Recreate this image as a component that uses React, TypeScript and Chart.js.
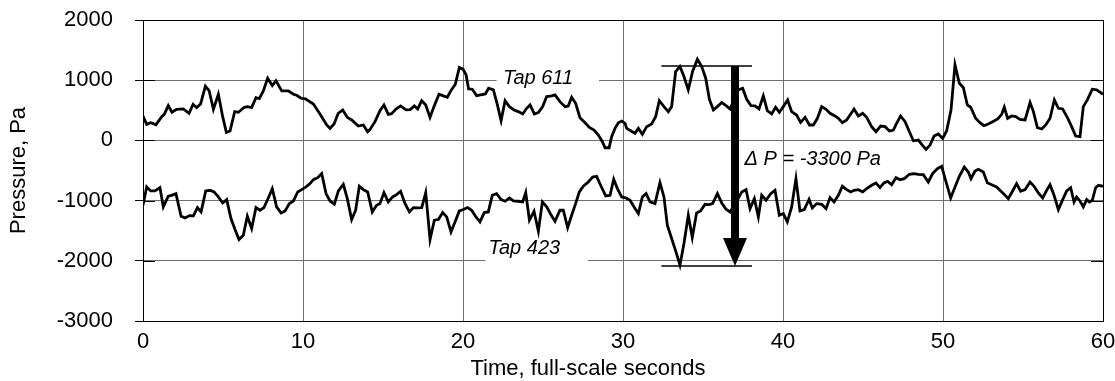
import { useEffect, useRef } from "react";
import { Chart, registerables } from "chart.js";
Chart.register(...registerables);

const tap611Time = [0, 0.23, 0.48, 0.6, 0.81, 1.17, 1.33, 1.58, 1.81, 2.1, 2.52, 2.88, 3.13, 3.35, 3.6, 3.9, 4.13, 4.4, 4.71, 4.98, 5.21, 5.44, 5.73, 5.96, 6.33, 6.54, 6.79, 7.06, 7.27, 7.52, 7.79, 8.08, 8.31, 8.67, 9.08, 9.4, 9.6, 9.88, 10.15, 10.65, 11.1, 11.48, 11.69, 11.94, 12.2, 12.48, 12.77, 13.04, 13.46, 13.77, 14.04, 14.19, 14.5, 14.81, 15.06, 15.33, 15.54, 15.81, 16.1, 16.44, 16.7, 16.96, 17.17, 17.42, 17.67, 17.94, 18.21, 18.5, 18.77, 19.02, 19.27, 19.52, 19.77, 20.0, 20.19, 20.35, 20.58, 20.85, 21.1, 21.4, 21.6, 21.9, 22.15, 22.38, 22.63, 22.9, 23.19, 23.46, 23.73, 23.98, 24.19, 24.46, 24.71, 24.98, 25.23, 25.54, 25.75, 26.06, 26.38, 26.58, 26.79, 27.04, 27.31, 27.63, 27.9, 28.19, 28.46, 28.71, 28.88, 29.13, 29.29, 29.5, 29.71, 29.92, 30.13, 30.23, 30.48, 30.75, 30.96, 31.21, 31.48, 31.79, 32.04, 32.27, 32.56, 32.83, 33.04, 33.29, 33.56, 33.81, 34.08, 34.35, 34.65, 34.92, 35.17, 35.4, 35.65, 35.9, 36.17, 36.44, 36.69, 37.2, 37.48, 37.73, 38.0, 38.25, 38.5, 38.77, 39.02, 39.29, 39.54, 39.77, 40.02, 40.29, 40.54, 40.85, 41.1, 41.38, 41.65, 41.9, 42.15, 42.42, 42.69, 42.94, 43.25, 43.46, 43.71, 43.98, 44.23, 44.44, 44.71, 44.98, 45.23, 45.54, 45.81, 46.1, 46.38, 46.65, 46.9, 47.1, 47.35, 47.63, 47.9, 48.15, 48.46, 48.67, 48.94, 49.19, 49.44, 49.71, 49.98, 50.23, 50.5, 50.75, 51.02, 51.27, 51.52, 51.73, 52.04, 52.31, 52.56, 52.83, 53.1, 53.42, 53.67, 53.83, 54.04, 54.29, 54.55, 54.81, 55.13, 55.44, 55.65, 55.9, 56.17, 56.42, 56.69, 56.96, 57.21, 57.48, 57.77, 58.04, 58.29, 58.56, 58.77, 59.02, 59.33, 59.6, 60];
const tap611Pa = [405, 267, 294, 283, 261, 394, 433, 578, 467, 517, 522, 450, 600, 544, 605, 900, 828, 517, 767, 394, 133, 156, 478, 467, 550, 561, 544, 711, 694, 822, 1033, 911, 989, 822, 822, 767, 750, 700, 689, 605, 422, 256, 200, 272, 450, 506, 383, 339, 239, 256, 144, 183, 311, 495, 589, 433, 444, 522, 572, 506, 511, 572, 522, 661, 589, 383, 578, 767, 739, 717, 839, 933, 1211, 1183, 1089, 856, 850, 744, 756, 772, 867, 839, 589, 328, 661, 561, 506, 478, 439, 533, 589, 439, 461, 561, 728, 739, 756, 644, 561, 572, 717, 617, 378, 294, 217, 172, 89, -22, -122, -122, 60, 200, 294, 322, 283, 200, 161, 117, 200, 100, 228, 272, 394, 661, 561, 478, 561, 1144, 1228, 1061, 839, 1144, 1350, 1228, 1033, 683, 506, 561, 628, 578, 522, 839, 867, 683, 578, 572, 522, 739, 494, 439, 550, 467, 561, 672, 478, 422, 300, 383, 256, 256, 367, 561, 517, 450, 406, 367, 294, 339, 439, 522, 406, 450, 383, 228, 144, 239, 228, 156, 172, 283, 406, 311, 144, -6, 6, -67, -150, -78, 72, 106, 33, 161, 506, 1256, 950, 878, 589, 550, 367, 294, 244, 272, 311, 356, 433, 550, 367, 406, 394, 350, 339, 628, 478, 211, 189, 256, 367, 672, 533, 522, 383, 228, 72, 61, 561, 672, 850, 839, 767];

const tap423Time = [0, 0.23, 0.48, 0.75, 1.06, 1.27, 1.58, 1.79, 2.06, 2.38, 2.63, 2.9, 3.15, 3.4, 3.63, 3.92, 4.19, 4.44, 4.71, 4.98, 5.23, 5.5, 5.75, 6.0, 6.27, 6.52, 6.79, 7.06, 7.31, 7.56, 7.83, 8.08, 8.35, 8.63, 8.88, 9.15, 9.4, 9.67, 9.92, 10.19, 10.44, 10.65, 10.92, 11.17, 11.44, 11.69, 11.96, 12.21, 12.52, 12.77, 13.04, 13.29, 13.52, 13.77, 14.04, 14.33, 14.6, 14.81, 15.06, 15.33, 15.6, 15.85, 16.1, 16.38, 16.65, 16.9, 17.17, 17.42, 17.67, 17.94, 18.21, 18.46, 18.73, 18.98, 19.25, 19.5, 19.77, 20.02, 20.29, 20.54, 20.81, 21.06, 21.33, 21.58, 21.83, 22.1, 22.38, 22.63, 22.9, 23.15, 23.46, 23.73, 23.92, 24.15, 24.44, 24.71, 24.96, 25.23, 25.48, 25.75, 26.06, 26.27, 26.54, 26.79, 27.04, 27.27, 27.52, 27.83, 28.1, 28.35, 28.63, 28.92, 29.19, 29.42, 29.65, 29.92, 30.19, 30.44, 30.69, 30.96, 31.21, 31.44, 31.69, 32.0, 32.31, 32.56, 32.77, 33.04, 33.31, 33.56, 33.81, 34.08, 34.33, 34.6, 34.85, 35.13, 35.38, 35.6, 35.9, 36.17, 36.44, 36.69, 37.2, 37.42, 37.69, 37.94, 38.21, 38.46, 38.67, 38.94, 39.23, 39.5, 39.77, 40.02, 40.27, 40.54, 40.81, 41.06, 41.33, 41.63, 41.83, 42.1, 42.42, 42.69, 42.94, 43.19, 43.46, 43.71, 43.98, 44.23, 44.44, 44.71, 44.98, 45.23, 45.54, 45.81, 46.06, 46.31, 46.54, 46.79, 47.06, 47.31, 47.58, 47.9, 48.19, 48.46, 48.77, 49.08, 49.35, 49.65, 49.92, 50.19, 50.48, 50.75, 51.02, 51.33, 51.58, 51.75, 52.0, 52.21, 52.52, 52.77, 53.04, 53.35, 53.67, 53.88, 54.08, 54.35, 54.6, 54.85, 55.13, 55.44, 55.69, 55.96, 56.23, 56.48, 56.69, 56.94, 57.21, 57.48, 57.73, 57.98, 58.19, 58.35, 58.56, 58.77, 58.98, 59.15, 59.33, 59.54, 59.71, 60];
const tap423Pa = [-1077, -773, -840, -840, -785, -1105, -928, -912, -884, -1260, -1287, -1249, -1254, -1116, -1188, -840, -829, -856, -939, -1039, -983, -1298, -1481, -1646, -1575, -1260, -1464, -1116, -1160, -1116, -956, -801, -1105, -1204, -1171, -1050, -1006, -856, -818, -773, -718, -652, -619, -552, -884, -1006, -1061, -840, -729, -967, -1315, -1160, -762, -818, -856, -1188, -1077, -1050, -867, -1022, -939, -901, -845, -1050, -1188, -1116, -1122, -1116, -867, -1646, -1326, -1315, -1199, -1271, -1519, -1354, -1171, -1149, -1116, -1160, -1271, -1354, -1199, -1188, -912, -884, -983, -1011, -956, -1006, -1011, -1022, -867, -1326, -1177, -1508, -1022, -1105, -1227, -1343, -1160, -1160, -1448, -1243, -1050, -856, -762, -691, -608, -597, -762, -923, -912, -645, -801, -939, -956, -994, -1105, -1215, -939, -884, -1022, -1050, -702, -939, -1409, -1630, -1851, -2072, -1713, -1243, -1613, -1204, -1171, -1061, -1066, -1050, -884, -1039, -1144, -1188, -967, -856, -818, -1133, -967, -1271, -912, -994, -884, -829, -1243, -1215, -1354, -1105, -635, -1171, -1149, -978, -1122, -1050, -1061, -1133, -950, -1022, -912, -762, -818, -856, -829, -818, -856, -801, -746, -707, -785, -707, -680, -735, -619, -652, -635, -563, -552, -563, -569, -691, -552, -470, -431, -691, -956, -773, -597, -442, -525, -635, -508, -481, -525, -702, -735, -773, -856, -912, -967, -840, -718, -845, -818, -691, -762, -873, -956, -829, -735, -912, -1149, -983, -840, -785, -1022, -939, -1006, -1105, -983, -1022, -994, -785, -746, -762];

const xMin = 0;
const xMax = 60;
const xStep = 10;
const yMin = -3000;
const yMax = 2000;
const yStep = 1000;
const xTitle = "Time, full-scale seconds";
const yTitle = "Pressure, Pa";

// annotations (data units)
const label611 = { text: "Tap 611", time: 22.5, pa: 935, gapFrom: 22.1, gapTo: 28.5, gridPa: 1000 };
const label423 = { text: "Tap 423", time: 21.6, pa: -1889, gapFrom: 21.4, gapTo: 27.8, gridPa: -2000 };
const deltaText = { text: "\u0394 P = -3300 Pa", time: 37.6, pa: -410 };
const deltaTopPa = 1235;
const deltaBottomPa = -2085;
const deltaLineFrom = 32.4;
const deltaLineTo = 38.06;
const arrowTime = 37.0;

const FONT = '"Liberation Sans", Arial, Helvetica, sans-serif';
const GRID = "#707070";

const annotations = {
  id: "annotations",
  beforeDatasetsDraw(chart: any) {
    const { ctx, scales, chartArea } = chart;
    const x = scales.x;
    const y = scales.y;
    ctx.save();
    ctx.strokeStyle = "#000";
    ctx.lineWidth = 1;
    for (let v = yMin; v <= yMax; v += yStep) {
      const py = Math.round(y.getPixelForValue(v)) + 0.5;
      ctx.beginPath();
      ctx.moveTo(chartArea.left, py);
      ctx.lineTo(chartArea.left + 12, py);
      ctx.moveTo(chartArea.right, py);
      ctx.lineTo(chartArea.right - 12, py);
      ctx.stroke();
    }
    ctx.font = "italic 20px " + FONT;
    ctx.textBaseline = "alphabetic";
    ctx.textAlign = "left";
    for (const l of [label611, label423]) {
      const gx0 = x.getPixelForValue(l.gapFrom);
      const gx1 = x.getPixelForValue(l.gapTo);
      const gy = y.getPixelForValue(l.gridPa);
      ctx.fillStyle = "#fff";
      ctx.fillRect(gx0, gy - 3, gx1 - gx0, 6);
      ctx.fillStyle = "#000";
      ctx.fillText(l.text, x.getPixelForValue(l.time), y.getPixelForValue(l.pa));
    }
    ctx.fillText(deltaText.text, x.getPixelForValue(deltaText.time), y.getPixelForValue(deltaText.pa));
    ctx.restore();
  },
  afterDatasetsDraw(chart: any) {
    const { ctx, scales } = chart;
    const x = scales.x;
    const y = scales.y;
    ctx.save();
    const lx0 = x.getPixelForValue(deltaLineFrom);
    const lx1 = x.getPixelForValue(deltaLineTo);
    const yt = y.getPixelForValue(deltaTopPa);
    const yb = y.getPixelForValue(deltaBottomPa);
    ctx.strokeStyle = "#000";
    ctx.lineWidth = 1.5;
    ctx.beginPath();
    ctx.moveTo(lx0, yt);
    ctx.lineTo(lx1, yt);
    ctx.moveTo(lx0, yb);
    ctx.lineTo(lx1, yb);
    ctx.stroke();
    const ax = x.getPixelForValue(arrowTime);
    const headLen = 28;
    const headHalf = 12;
    const shaftHalf = 4;
    ctx.fillStyle = "#000";
    ctx.fillRect(ax - shaftHalf, yt, shaftHalf * 2, yb - headLen - yt + 1);
    ctx.beginPath();
    ctx.moveTo(ax - headHalf, yb - headLen);
    ctx.lineTo(ax + headHalf, yb - headLen);
    ctx.lineTo(ax, yb);
    ctx.closePath();
    ctx.fill();
    ctx.restore();
  },
  afterDraw(chart: any) {
    const { ctx } = chart;
    ctx.save();
    ctx.font = "22px " + FONT;
    ctx.fillStyle = "#000";
    ctx.textAlign = "center";
    ctx.textBaseline = "alphabetic";
    ctx.fillText(xTitle, 588, 375);
    ctx.restore();
  },
};

export default function App() {
  const ref = useRef<HTMLCanvasElement>(null);
  useEffect(() => {
    if (!ref.current) return;
    const chart = new Chart(ref.current, {
      type: "line",
      data: {
        datasets: [
          {
            label: "Tap 611",
            data: tap611Time.map((t, i) => ({ x: t, y: tap611Pa[i] })),
            borderColor: "#000",
            borderWidth: 2.8,
            pointRadius: 0,
            tension: 0,
            fill: false,
          },
          {
            label: "Tap 423",
            data: tap423Time.map((t, i) => ({ x: t, y: tap423Pa[i] })),
            borderColor: "#000",
            borderWidth: 2.8,
            pointRadius: 0,
            tension: 0,
            fill: false,
          },
        ],
      },
      options: {
        animation: false,
        responsive: false,
        events: [],
        layout: { padding: { top: 20, right: 12, left: 0, bottom: 0 } },
        plugins: { legend: { display: false }, tooltip: { enabled: false } },
        scales: {
          x: {
            type: "linear",
            min: xMin,
            max: xMax,
            afterFit: (s: any) => {
              s.height = 60;
              s.paddingLeft = 0;
              s.paddingRight = 0;
              s.paddingTop = 0;
              s.paddingBottom = 0;
            },
            ticks: {
              stepSize: xStep,
              color: "#000",
              font: { family: FONT, size: 22 },
              padding: 8,
              maxRotation: 0,
              callback: (v: any) => String(v),
            },
            grid: {
              color: (c: any) => (c.tick && c.tick.value === xMax ? "#000" : GRID),
              lineWidth: 1,
              drawTicks: false,
            },
            border: { display: true, color: "#000", width: 1 },
          },
          y: {
            type: "linear",
            min: yMin,
            max: yMax,
            afterFit: (s: any) => {
              s.width = 143;
              s.paddingLeft = 0;
              s.paddingRight = 0;
              s.paddingTop = 0;
              s.paddingBottom = 0;
            },
            ticks: {
              stepSize: yStep,
              color: "#000",
              font: { family: FONT, size: 22 },
              padding: 22,
              callback: (v: any) => String(v),
            },
            grid: {
              color: (c: any) => (c.tick && c.tick.value === yMax ? "#000" : GRID),
              lineWidth: 1,
              tickLength: 8,
              tickColor: "#000",
            },
            border: { display: true, color: "#000", width: 1 },
            title: {
              display: true,
              text: yTitle,
              color: "#000",
              font: { family: FONT, size: 22 },
              padding: { top: 6, bottom: 0 },
            },
          },
        },
      },
      plugins: [annotations],
    });
    return () => chart.destroy();
  }, []);
  return (
    <div style={{ position: "fixed", left: 0, top: 0, width: 1115, height: 381, background: "#fff" }}>
      <canvas ref={ref} width={1115} height={381} style={{ display: "block" }} />
    </div>
  );
}
